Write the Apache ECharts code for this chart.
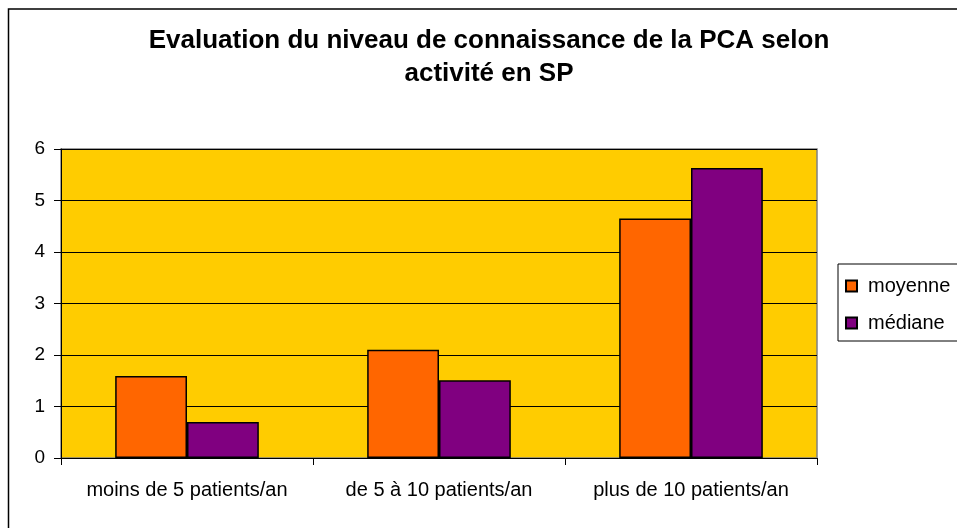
<!DOCTYPE html>
<html><head><meta charset="utf-8">
<script src="https://cdn.jsdelivr.net/npm/echarts@6/dist/echarts.min.js"></script>
<style>html,body{margin:0;padding:0;background:#fff}#c{width:957px;height:528px}</style>
</head><body><div id="c"></div>
<script>
const categories = ['moins de 5 patients/an', 'de 5 à 10 patients/an', 'plus de 10 patients/an'];
const moyenne = [1.59, 2.10, 4.65];
const mediane = [0.70, 1.51, 5.63];
const seriesNames = ['moyenne', 'médiane'];
const yTicks = [0, 1, 2, 3, 4, 5, 6];

const chart = echarts.init(document.getElementById('c'), null, {renderer: 'canvas'});
const font = 'Arial, "Liberation Sans", sans-serif';
chart.setOption({
  animation: false,
  backgroundColor: '#ffffff',
  title: {
    text: 'Evaluation du niveau de connaissance de la PCA selon\nactivité en SP',
    left: 489, top: 24, textAlign: 'center', padding: 0,
    textStyle: {fontFamily: font, fontSize: 26, fontWeight: 'bold', color: '#000', lineHeight: 33}
  },
  graphic: [{
    type: 'rect', shape: {x: 8.5, y: 9, width: 960, height: 540},
    style: {fill: null, stroke: '#000', lineWidth: 1.5}, z: -10
  }],
  legend: {
    orient: 'vertical', left: 838, top: 264,
    padding: [12, 40, 8, 7], itemGap: 17,
    itemWidth: 11, itemHeight: 11, icon: 'rect',
    borderColor: '#000', borderWidth: 1,
    textStyle: {fontFamily: font, fontSize: 20, color: '#000', padding: [0, 0, 0, 6]},
    data: seriesNames
  },
  grid: {left: 61, top: 149, right: 140, bottom: 70, show: true, backgroundColor: '#FFCC00', borderColor: '#808080', borderWidth: 1.5},
  xAxis: {
    type: 'category', data: categories,
    axisLine: {lineStyle: {color: '#000', width: 1}},
    axisTick: {show: true, interval: 0, length: 7, lineStyle: {color: '#000'}},
    axisLabel: {interval: 0, fontFamily: font, fontSize: 20, color: '#000', margin: 22}
  },
  yAxis: {
    type: 'value', min: yTicks[0], max: yTicks[yTicks.length - 1], interval: 1,
    axisLine: {show: true, lineStyle: {color: '#000', width: 1}},
    axisTick: {show: true, length: 7, lineStyle: {color: '#000'}},
    axisLabel: {fontFamily: font, fontSize: 19, color: '#000', margin: 16},
    splitLine: {lineStyle: {color: '#000', width: 1}}
  },
  series: [
    {name: seriesNames[0], type: 'bar', data: moyenne, barGap: '0%', barCategoryGap: '43%',
     itemStyle: {color: '#FF6600', borderColor: '#000', borderWidth: 1.5}},
    {name: seriesNames[1], type: 'bar', data: mediane, barGap: '0%', barCategoryGap: '43%',
     itemStyle: {color: '#800080', borderColor: '#000', borderWidth: 1.5}}
  ]
});
</script></body></html>
